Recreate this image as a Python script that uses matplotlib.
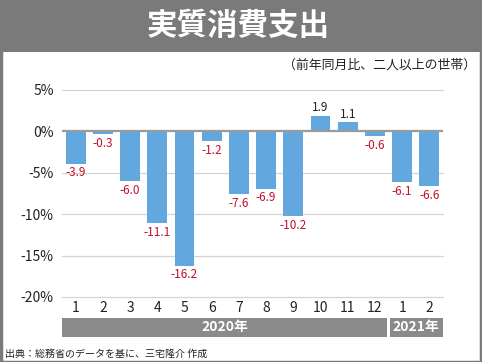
import matplotlib
matplotlib.use("Agg")
import matplotlib.pyplot as plt
from matplotlib.patches import Rectangle
import matplotlib.transforms as mtransforms

plt.rcParams['font.family'] = ['Noto Sans CJK JP', 'DejaVu Sans']

months = ['1', '2', '3', '4', '5', '6', '7', '8', '9', '10', '11', '12', '1', '2']
values = [-3.9, -0.3, -6.0, -11.1, -16.2, -1.2, -7.6, -6.9, -10.2, 1.9, 1.1, -0.6, -6.1, -6.6]
years = ['2020年', '2021年']
year_spans = [(0, 11), (12, 13)]
yticks = [5, 0, -5, -10, -15, -20]

W, H = 482, 362
fig = plt.figure(figsize=(W / 100, H / 100), dpi=100)
fig.patch.set_facecolor('white')

# title banner
fig.add_artist(Rectangle((0, 1 - 52 / H), 1, 52 / H, transform=fig.transFigure,
                         facecolor='#7a7a7a', edgecolor='none'))
fig.text(238 / W, 1 - 26 / H, '実質消費支出', color='white', fontsize=22,
         fontweight='bold', ha='center', va='center')
fig.text(476 / W, 1 - 65 / H, '（前年同月比、二人以上の世帯）', fontsize=9.3,
         ha='right', va='center', color='#222222')

# outer border
fig.add_artist(Rectangle((0.5 / W, 0.5 / H), 1 - 1.5 / W, 1 - 1.5 / H, transform=fig.transFigure,
                         facecolor='none', edgecolor='#7a7a7a', linewidth=2.5))

ax = fig.add_axes([62 / W, 1 - 297 / H, 381 / W, 207 / H])
x = list(range(len(values)))
ax.bar(x, values, width=0.73, color='#62a8de', zorder=2)
ax.set_xlim(-0.5, len(values) - 0.5)
ax.set_ylim(-20, 5)

for v in yticks:
    if v == 0:
        ax.axhline(0, color='#9a9a9a', linewidth=1.6, zorder=3)
    else:
        ax.axhline(v, color='#d4d4d4', linewidth=0.9, zorder=1, clip_on=False)

ax.set_yticks(yticks)
ax.set_yticklabels([f'{v}%' for v in yticks], fontsize=10, color='#222222')
ax.set_xticks(x)
ax.set_xticklabels(months, fontsize=10, color='#222222')
ax.tick_params(axis='both', length=0)
ax.tick_params(axis='y', pad=6)
ax.tick_params(axis='x', pad=3)
for s in ax.spines.values():
    s.set_visible(False)

for xi, v in zip(x, values):
    if v < 0:
        ax.annotate(f'{v:.1f}', (xi, v), xytext=(0, -2), textcoords='offset points',
                    ha='center', va='top', fontsize=8.5, color='#c0102c')
    else:
        ax.annotate(f'{v:.1f}', (xi, v), xytext=(0, 1), textcoords='offset points',
                    ha='center', va='bottom', fontsize=8.5, color='#222222')

# year bands
trans = mtransforms.blended_transform_factory(ax.transData, fig.transFigure)
gap = 0.04
for name, (a, b) in zip(years, year_spans):
    x0 = a - 0.5 + (gap if a > 0 else 0)
    x1 = b + 0.5 - (gap if b < len(values) - 1 else 0)
    ax.add_artist(Rectangle((x0, 1 - 337 / H), x1 - x0, 19 / H, transform=trans,
                            facecolor='#8a8a8a', edgecolor='none', clip_on=False))
    ax.text((x0 + x1) / 2, 1 - 327.5 / H, name, transform=trans, ha='center', va='center',
            color='white', fontsize=10, fontweight='bold')

fig.text(5 / W, 1 - 354 / H, '出典：総務省のデータを基に、三宅隆介 作成', fontsize=7.2,
         ha='left', va='center', color='#222222')

fig.savefig('out.png', dpi=100)
